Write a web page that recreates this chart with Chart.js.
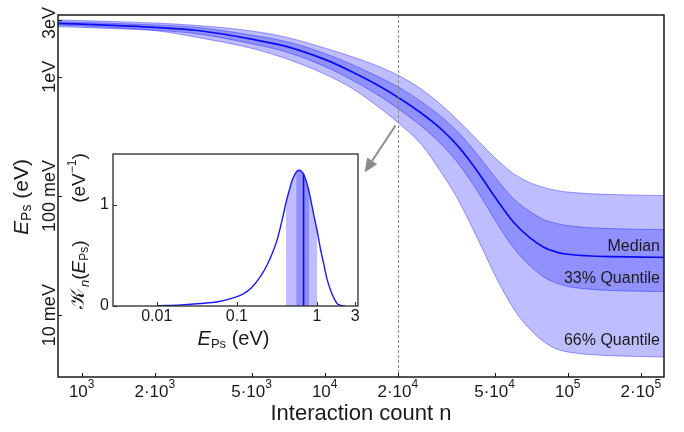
<!DOCTYPE html>
<html>
<head>
<meta charset="utf-8">
<script src="https://cdn.jsdelivr.net/npm/chart.js@4.4.1/dist/chart.umd.min.js"></script>
<style>
  html, body { margin: 0; padding: 0; background: #fff; }
  #wrap { position: relative; width: 684px; height: 432px; }
  #wrap canvas { position: absolute; left: 0; top: 0; }
</style>
</head>
<body>
<div id="wrap">
  <canvas id="main" width="684" height="432"></canvas>
  <canvas id="inset" width="684" height="432"></canvas>
</div>
<script>
// ---- Positronium energy vs. number of interactions ----
const interactionCounts = [800, 1000, 1500, 2000, 3000, 5000, 7000, 10000, 13000, 16000, 20000,
                           25000, 30000, 35000, 40000, 45000, 50000, 60000, 70000, 80000, 90000,
                           100000, 120000, 150000, 200000, 250000];
// energies in eV
const medianEnergy = [2.805, 2.762, 2.668, 2.592, 2.441, 2.068, 1.789, 1.397, 1.097, 0.880, 0.673,
                      0.494, 0.367, 0.268, 0.1907, 0.1360, 0.0989, 0.0599, 0.0444, 0.0369, 0.0338,
                      0.0324, 0.0315, 0.0310, 0.0307, 0.0305];
const upper33 = [2.894, 2.861, 2.779, 2.720, 2.587, 2.234, 1.963, 1.569, 1.261, 1.037, 0.824,
                 0.617, 0.467, 0.351, 0.2588, 0.1918, 0.1455, 0.0944, 0.0739, 0.0632, 0.0587,
                 0.0564, 0.0544, 0.0532, 0.0525, 0.0523];
const lower33 = [2.716, 2.664, 2.552, 2.460, 2.287, 1.892, 1.606, 1.220, 0.935, 0.733, 0.542,
                 0.3845, 0.2758, 0.1936, 0.1326, 0.0910, 0.0637, 0.0364, 0.0259, 0.0208, 0.0185,
                 0.0174, 0.01656, 0.0161, 0.01585, 0.01572];
const upper66 = [2.990, 2.956, 2.883, 2.821, 2.689, 2.418, 2.137, 1.741, 1.469, 1.261, 1.033,
                 0.786, 0.587, 0.439, 0.3345, 0.2613, 0.2104, 0.1536, 0.1291, 0.1179, 0.1110,
                 0.1078, 0.1047, 0.1027, 0.1014, 0.1008];
const lower66 = [2.628, 2.593, 2.513, 2.437, 2.133, 1.731, 1.408, 1.052, 0.796, 0.5925, 0.4129,
                 0.2700, 0.1602, 0.0968, 0.0569, 0.0346, 0.02197, 0.01125, 0.00759, 0.00595, 0.00520,
                 0.00491, 0.00469, 0.00457, 0.00450, 0.00445];

const xTickValues = [1000, 2000, 5000, 10000, 20000, 50000, 100000, 200000];
const xTickLabels = ['10^3', '2·10^3', '5·10^3', '10^4', '2·10^4', '5·10^4', '10^5', '2·10^5'];
const yTickValues = [3, 1, 0.1, 0.01];
const yTickLabels = ['3eV', '1eV', '100 meV', '10 meV'];
const snapshotCount = 20000;

// ---- energy distribution at the snapshot count ----
const insetEnergy = [0.01, 0.02, 0.035, 0.06, 0.09, 0.12, 0.15, 0.2, 0.24, 0.28, 0.32, 0.37,
                     0.41, 0.45, 0.49, 0.55, 0.59, 0.64, 0.68, 0.75, 0.80, 0.90, 1.0, 1.1,
                     1.21, 1.33, 1.47, 1.62, 1.78, 2.0, 2.2];
const insetDensity = [0.002, 0.01, 0.024, 0.045, 0.08, 0.12, 0.175, 0.30, 0.41, 0.53, 0.66, 0.86,
                      1.02, 1.14, 1.24, 1.32, 1.34, 1.33, 1.30, 1.21, 1.12, 0.92, 0.75, 0.57,
                      0.42, 0.27, 0.16, 0.08, 0.025, 0.005, 0];
const insetMedian = 0.68;
const insetRange33 = [0.55, 0.80];
const insetRange66 = [0.41, 1.0];
const insetXTickValues = [0.01, 0.1, 1, 3];
const insetXTickLabels = ['0.01', '0.1', '1', '3'];
const insetYTickValues = [0, 1];
const insetYTickLabels = ['0', '1'];

const FONT = "'Liberation Sans', Arial, Helvetica, sans-serif";
const MATH = "'Noto Sans Math', 'STIX Two Math', 'DejaVu Serif', 'DejaVu Sans', serif";
const INK = '#1a1a1a';

const BAND_LIGHT = 'rgba(0,0,255,0.26)';
const BAND_DARK = 'rgba(0,0,255,0.24)';
const BAND_EDGE = 'rgba(40,40,255,0.55)';
const LINE_BLUE = 'rgb(10,10,240)';

function richText(ctx, parts, x, y, opts = {}) {
  const { align = 'center', rotate = false, color = INK } = opts;
  ctx.save();
  ctx.translate(x, y);
  if (rotate) ctx.rotate(-Math.PI / 2);
  ctx.fillStyle = color;
  ctx.textBaseline = 'middle';
  ctx.textAlign = 'left';
  const fontOf = p => `${p.italic ? 'italic ' : ''}${p.size}px ${p.family || FONT}`;
  let total = 0;
  const widths = parts.map(p => { ctx.font = fontOf(p); const w = ctx.measureText(p.t).width; total += w; return w; });
  let cx = align === 'center' ? -total / 2 : (align === 'right' ? -total : 0);
  parts.forEach((p, i) => { ctx.font = fontOf(p); ctx.fillText(p.t, cx, p.dy || 0); cx += widths[i]; });
  ctx.restore();
}

function powerLabel(str, size) {
  const [base, exp] = str.split('^');
  const parts = [{ t: base, size }];
  if (exp) parts.push({ t: exp, size: Math.round(size * 0.7), dy: -size * 0.42 });
  return parts;
}

const pts = (xs, ys) => xs.map((x, i) => ({ x, y: ys[i] }));

// ---------------- main chart ----------------
const mainDecor = {
  id: 'mainDecor',
  afterDatasetsDraw(chart) {
    const { ctx, chartArea: a, scales: { x, y } } = chart;
    ctx.save();
    // vertical marker at the snapshot count
    const xs = Math.round(x.getPixelForValue(snapshotCount)) + 0.5;
    ctx.strokeStyle = '#8c8c8c';
    ctx.lineWidth = 1;
    ctx.setLineDash([3, 2]);
    ctx.beginPath(); ctx.moveTo(xs, a.top); ctx.lineTo(xs, a.bottom); ctx.stroke();
    ctx.setLineDash([]);

    // arrow from the snapshot towards the inset
    const idx = interactionCounts.indexOf(snapshotCount);
    const sx = xs - 3, sy = y.getPixelForValue(lower66[idx]) + 3;
    const ex = sx - 31, ey = sy + 47;
    const ang = Math.atan2(ey - sy, ex - sx);
    const hl = 14, hw = 6;
    const bx = ex - hl * Math.cos(ang), by = ey - hl * Math.sin(ang);
    ctx.strokeStyle = '#8c8c8c'; ctx.fillStyle = '#8c8c8c'; ctx.lineWidth = 2;
    ctx.beginPath(); ctx.moveTo(sx, sy); ctx.lineTo(bx, by); ctx.stroke();
    ctx.beginPath();
    ctx.moveTo(ex, ey);
    ctx.lineTo(bx + hw * Math.sin(ang), by - hw * Math.cos(ang));
    ctx.lineTo(bx - hw * Math.sin(ang), by + hw * Math.cos(ang));
    ctx.closePath(); ctx.fill();

    // frame
    ctx.strokeStyle = INK; ctx.lineWidth = 1.5;
    ctx.strokeRect(a.left, a.top, a.right - a.left, a.bottom - a.top);

    // tick marks (inward)
    ctx.lineWidth = 1;
    ctx.beginPath();
    xTickValues.forEach(v => { const px = Math.round(x.getPixelForValue(v)) + 0.5; ctx.moveTo(px, a.bottom); ctx.lineTo(px, a.bottom - 4); });
    yTickValues.forEach(v => { const py = Math.round(y.getPixelForValue(v)) + 0.5; ctx.moveTo(a.left, py); ctx.lineTo(a.left + 4, py); });
    ctx.stroke();
    ctx.restore();

    // tick labels
    xTickValues.forEach((v, i) => richText(ctx, powerLabel(xTickLabels[i], 17), x.getPixelForValue(v), a.bottom + 15));
    yTickValues.forEach((v, i) => {
      // keep the topmost label clear of the frame corner
      const py = Math.max(y.getPixelForValue(v), a.top + 8);
      richText(ctx, [{ t: yTickLabels[i], size: 18 }], a.left - 8, py, { rotate: true });
    });

    // axis titles
    richText(ctx, [{ t: 'Interaction count n', size: 22 }], (a.left + a.right) / 2, a.bottom + 37);
    richText(ctx, [
      { t: 'E', size: 21, italic: true },
      { t: 'Ps', size: 14, dy: 5 },
      { t: ' (eV)', size: 21 }
    ], 22, 197, { rotate: true });

    // band annotations
    const last = interactionCounts.length - 1;
    const yMed = y.getPixelForValue(medianEnergy[last]);
    const yL33 = y.getPixelForValue(lower33[last]);
    const yL66 = y.getPixelForValue(lower66[last]);
    const rx = a.right - 4;
    richText(ctx, [{ t: 'Median', size: 16 }], rx, yMed - 11, { align: 'right' });
    richText(ctx, [{ t: '33% Quantile', size: 16 }], rx, (yMed + yL33) / 2 + 4, { align: 'right' });
    richText(ctx, [{ t: '66% Quantile', size: 16 }], rx, yL66 - 16, { align: 'right' });
  }
};

new Chart(document.getElementById('main'), {
  type: 'line',
  data: {
    datasets: [
      { label: 'Median', data: pts(interactionCounts, medianEnergy), borderColor: LINE_BLUE, borderWidth: 1.7, fill: false },
      { label: 'upper 33%', data: pts(interactionCounts, upper33), borderColor: BAND_EDGE, borderWidth: 0.8, backgroundColor: BAND_DARK, fill: '+1' },
      { label: 'lower 33%', data: pts(interactionCounts, lower33), borderColor: BAND_EDGE, borderWidth: 0.8, fill: false },
      { label: 'upper 66%', data: pts(interactionCounts, upper66), borderColor: BAND_EDGE, borderWidth: 0.8, backgroundColor: BAND_LIGHT, fill: '+1' },
      { label: 'lower 66%', data: pts(interactionCounts, lower66), borderColor: BAND_EDGE, borderWidth: 0.8, fill: false }
    ]
  },
  options: {
    responsive: false,
    animation: false,
    events: [],
    devicePixelRatio: 1,
    layout: { padding: { left: 58, right: 20, top: 15, bottom: 55 } },
    elements: { point: { radius: 0 }, line: { cubicInterpolationMode: 'monotone' } },
    plugins: { legend: { display: false }, tooltip: { enabled: false } },
    scales: {
      x: { type: 'logarithmic', min: 799, max: 249000, display: false },
      y: { type: 'logarithmic', min: 0.003027, max: 3.294, display: false }
    }
  },
  plugins: [mainDecor]
});

// ---------------- inset: distribution at the snapshot ----------------
const insetCurve = pts(insetEnergy, insetDensity);
const within = r => insetCurve.filter(p => p.x >= r[0] - 1e-9 && p.x <= r[1] + 1e-9);
const medianHeight = insetDensity[insetEnergy.indexOf(insetMedian)];

const insetDecor = {
  id: 'insetDecor',
  beforeDatasetsDraw(chart) {
    const { ctx, chartArea: a } = chart;
    ctx.save();
    ctx.fillStyle = '#fff';
    ctx.fillRect(a.left, a.top, a.right - a.left, a.bottom - a.top);
    ctx.restore();
  },
  afterDatasetsDraw(chart) {
    const { ctx, chartArea: a, scales: { x, y } } = chart;
    ctx.save();
    ctx.strokeStyle = '#2a2a2a'; ctx.lineWidth = 1.3;
    ctx.strokeRect(a.left, a.top, a.right - a.left, a.bottom - a.top);
    ctx.lineWidth = 1;
    ctx.beginPath();
    insetXTickValues.forEach(v => { const px = Math.round(x.getPixelForValue(v)) + 0.5; ctx.moveTo(px, a.bottom); ctx.lineTo(px, a.bottom - 4); });
    insetYTickValues.forEach(v => { const py = Math.round(y.getPixelForValue(v)) + 0.5; ctx.moveTo(a.left, py); ctx.lineTo(a.left + 4, py); });
    ctx.stroke();
    ctx.restore();

    insetXTickValues.forEach((v, i) => richText(ctx, [{ t: insetXTickLabels[i], size: 16 }], x.getPixelForValue(v), a.bottom + 11));
    insetYTickValues.forEach((v, i) => richText(ctx, [{ t: insetYTickLabels[i], size: 16 }], a.left - 4, y.getPixelForValue(v), { align: 'right' }));

    richText(ctx, [
      { t: 'E', size: 20, italic: true },
      { t: 'Ps', size: 13, dy: 5 },
      { t: ' (eV)', size: 20 }
    ], (a.left + a.right) / 2 - 2, a.bottom + 33);

    richText(ctx, [
      { t: '(eV', size: 19 },
      { t: '−1', size: 12, dy: -7 },
      { t: ')', size: 19 }
    ], 80, 178, { rotate: true });
    richText(ctx, [
      { t: '𝒦', size: 20, family: MATH },
      { t: 'n', size: 13, italic: true, dy: 5 },
      { t: '(', size: 19 },
      { t: 'E', size: 19, italic: true },
      { t: 'Ps', size: 12, dy: 5 },
      { t: ')', size: 19 }
    ], 80, 275, { rotate: true });
  }
};

new Chart(document.getElementById('inset'), {
  type: 'line',
  data: {
    datasets: [
      { label: 'median', data: [{ x: insetMedian, y: 0 }, { x: insetMedian, y: medianHeight }], borderColor: LINE_BLUE, borderWidth: 1.6, fill: false, cubicInterpolationMode: 'default', tension: 0 },
      { label: 'density', data: insetCurve, borderColor: 'rgb(25,25,255)', borderWidth: 1.4, fill: false },
      { label: '33%', data: within(insetRange33), borderWidth: 0, borderColor: 'rgba(0,0,0,0)', backgroundColor: BAND_DARK, fill: 'origin' },
      { label: '66%', data: within(insetRange66), borderWidth: 0, borderColor: 'rgba(0,0,0,0)', backgroundColor: BAND_LIGHT, fill: 'origin' }
    ]
  },
  options: {
    responsive: false,
    animation: false,
    events: [],
    devicePixelRatio: 1,
    layout: { padding: { left: 113, right: 326, top: 154, bottom: 126 } },
    elements: { point: { radius: 0 }, line: { cubicInterpolationMode: 'monotone' } },
    plugins: { legend: { display: false }, tooltip: { enabled: false } },
    scales: {
      x: { type: 'logarithmic', min: 0.00284, max: 3.25, display: false },
      y: { type: 'linear', min: 0, max: 1.5, display: false }
    }
  },
  plugins: [insetDecor]
});
</script>
</body>
</html>
